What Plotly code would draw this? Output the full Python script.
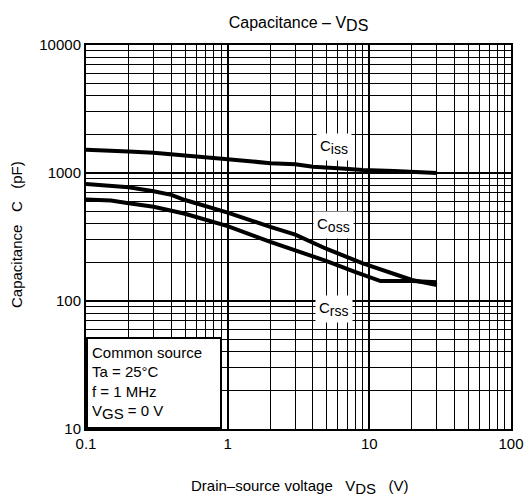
import numpy as np
import plotly.graph_objects as go

# Data
vds_iss = [0.1, 0.15, 0.2, 0.3, 0.5, 0.7, 1, 1.5, 2, 3, 4, 6, 9, 15, 20, 30]
ciss = [1520, 1500, 1470, 1440, 1380, 1320, 1280, 1230, 1190, 1170, 1120, 1090, 1055, 1035, 1020, 1000]

vds_oss = [0.1, 0.15, 0.2, 0.3, 0.4, 0.5, 0.7, 1, 2, 3, 5, 9, 20, 30]
coss = [820, 800, 775, 720, 675, 615, 550, 490, 380, 330, 255, 197, 146, 133]

vds_rss = [0.1, 0.15, 0.2, 0.3, 0.5, 0.7, 1, 2, 3, 5, 8, 12, 20, 30]
crss = [620, 610, 580, 545, 480, 430, 385, 290, 250, 205, 168, 143, 143, 140]

label_main = ["C", "C", "C"]
label_sub = ["iss", "oss", "rss"]
label_x = [5.6, 5.6, 5.6]
label_y = [1600, 395, 86]

x_ticks = [0.1, 1, 10, 100]
x_tick_text = ["0.1", "1", "10", "100"]
y_ticks = [10, 100, 1000, 10000]
y_tick_text = ["10", "100", "1000", "10000"]

FONT = "Liberation Sans, Arial, sans-serif"


def sub(s, size):
    return "<sub><span style='font-size:%dpx'>%s</span></sub>" % (size, s)


fig = go.Figure()
for xs, ys in [(vds_iss, ciss), (vds_oss, coss), (vds_rss, crss)]:
    fig.add_trace(go.Scatter(x=xs, y=ys, mode="lines",
                             line=dict(color="black", width=4),
                             showlegend=False, hoverinfo="skip"))

for m, s, lx, ly in zip(label_main, label_sub, label_x, label_y):
    fig.add_annotation(x=np.log10(lx), y=np.log10(ly), xref="x", yref="y",
                       text=m + sub(s, 14), showarrow=False, bgcolor="white",
                       font=dict(family=FONT, size=15, color="black"),
                       borderpad=3)

fig.add_annotation(x=0, y=0, xref="paper", yref="paper",
                   xanchor="left", yanchor="bottom",
                   text="Common source<br>Ta = 25°C<br>f = 1 MHz<br>V" + sub("GS", 15) + " = 0 V",
                   align="left", valign="middle", showarrow=False,
                   bgcolor="white", bordercolor="black", borderwidth=2,
                   width=124, height=80, borderpad=4,
                   font=dict(family=FONT, size=15, color="black"))

# axis titles
fig.add_annotation(x=0.5, y=0, xref="paper", yref="paper",
                   xanchor="center", yanchor="middle", xshift=1, yshift=-58,
                   text="Drain–source voltage   V" + sub("DS", 15) + "   (V)",
                   showarrow=False, font=dict(family=FONT, size=15, color="black"))
fig.add_annotation(x=0, y=0.5, xref="paper", yref="paper",
                   xanchor="center", yanchor="middle", xshift=-70, yshift=2,
                   textangle=-90, text="Capacitance   C   (pF)",
                   showarrow=False, font=dict(family=FONT, size=15, color="black"))

axis_common = dict(
    type="log", automargin=False,
    showline=True, linecolor="black", linewidth=2, mirror=True,
    showgrid=True, gridcolor="black", gridwidth=2,
    minor=dict(showgrid=True, gridcolor="black", gridwidth=1, dtick="D1", ticks=""),
    ticks="", zeroline=False, ticklabeloverflow="allow",
    tickfont=dict(family=FONT, size=15, color="black"),
)

W, H = 527, 501
fig.update_layout(
    width=W, height=H,
    margin=dict(l=86, r=16, t=45, b=72, pad=0),
    paper_bgcolor="white", plot_bgcolor="white",
    font=dict(family=FONT, size=15, color="black"),
    title=dict(text="Capacitance – V" + sub("DS", 16), x=0.5, xref="paper",
               y=1 - 22 / H, yref="container", yanchor="middle",
               font=dict(family=FONT, size=16, color="black")),
    xaxis=dict(axis_common, range=[-1, 2], tickvals=x_ticks, ticktext=x_tick_text),
    yaxis=dict(axis_common, range=[1, 4], tickvals=y_ticks, ticktext=y_tick_text),
)

fig.write_html("out.html",
               config={"displayModeBar": False},
               post_script="document.body.style.margin='0';document.body.style.overflow='hidden';")
